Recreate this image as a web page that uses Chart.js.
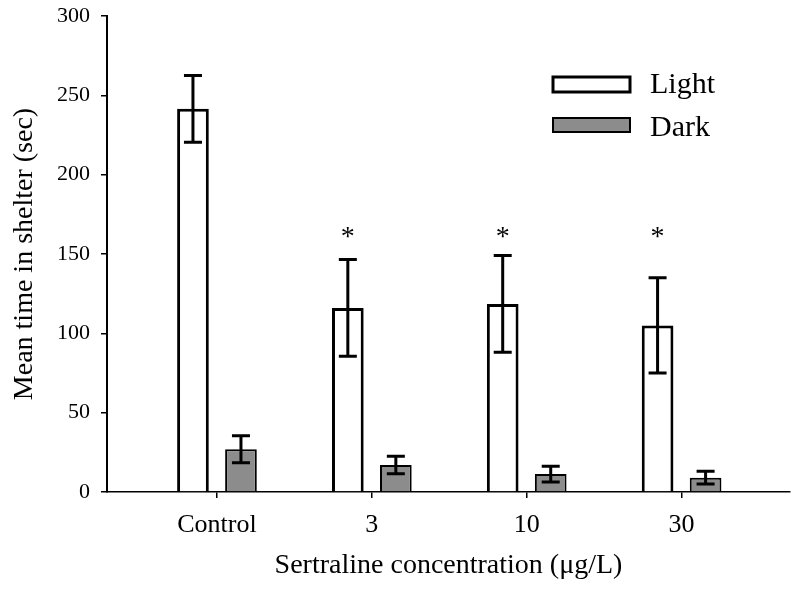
<!DOCTYPE html>
<html><head><meta charset="utf-8">
<script src="https://cdn.jsdelivr.net/npm/chart.js@4.4.1/dist/chart.umd.min.js"></script>
<style>html,body{margin:0;padding:0;background:#fff}#wrap{width:800px;height:598px}</style>
</head><body><div id="wrap"><canvas id="c" width="800" height="598"></canvas></div>
<script>
const categories = ['Control', '3', '10', '30'];
const lightMeans = [241.5, 116, 118.5, 105];
const lightErrors = [21, 30.5, 30.5, 30];
const darkMeans = [27, 17, 11.3, 9];
const darkErrors = [8.5, 5.5, 5, 4];
const significant = [false, true, true, true];
const yTicks = [0, 50, 100, 150, 200, 250, 300];
const seriesLabels = ['Light', 'Dark'];

const SERIF = '"Liberation Serif", "Times New Roman", serif';

const overlay = {
  id: 'overlay',
  afterDatasetsDraw(chart) {
    const ctx = chart.ctx, ys = chart.scales.y;
    const errs = [lightErrors, darkErrors];
    const means = [lightMeans, darkMeans];
    ctx.save();
    ctx.strokeStyle = '#000';
    ctx.lineWidth = 3;
    [0, 1].forEach(d => {
      const meta = chart.getDatasetMeta(d);
      meta.data.forEach((bar, i) => {
        const v = means[d][i], e = errs[d][i];
        const top = ys.getPixelForValue(v + e), bot = ys.getPixelForValue(v - e);
        ctx.beginPath();
        ctx.moveTo(bar.x, top); ctx.lineTo(bar.x, bot);
        ctx.moveTo(bar.x - 9, top); ctx.lineTo(bar.x + 9, top);
        ctx.moveTo(bar.x - 9, bot); ctx.lineTo(bar.x + 9, bot);
        ctx.stroke();
      });
    });
    // significance asterisks
    ctx.fillStyle = '#000';
    ctx.font = '28px ' + SERIF;
    ctx.textAlign = 'center';
    ctx.textBaseline = 'alphabetic';
    const lm = chart.getDatasetMeta(0);
    significant.forEach((s, i) => {
      if (!s) return;
      ctx.fillText('*', lm.data[i].x, ys.getPixelForValue(164) + 13);
    });
    // legend
    const ds = chart.data.datasets;
    const boxes = [[553, 77, 77, 15, 93], [553, 118, 77, 14, 136]];
    ctx.font = '30px ' + SERIF;
    ctx.textAlign = 'left';
    ds.forEach((set, k) => {
      const [bx, by, bw, bh, base] = boxes[k];
      ctx.fillStyle = set.backgroundColor;
      ctx.fillRect(bx, by, bw, bh);
      ctx.lineWidth = set.borderWidth;
      ctx.strokeStyle = '#000';
      ctx.strokeRect(bx, by, bw, bh);
      ctx.fillStyle = '#000';
      ctx.fillText(set.label, 650, base);
    });
    ctx.restore();
  }
};

new Chart(document.getElementById('c'), {
  type: 'bar',
  data: {
    datasets: [
      {
        label: seriesLabels[0],
        data: categories.map((c, i) => ({ x: i + 1, y: lightMeans[i] })),
        backgroundColor: '#ffffff',
        borderColor: '#000000',
        borderWidth: 3,
        borderSkipped: 'start'
      },
      {
        label: seriesLabels[1],
        data: categories.map((c, i) => ({ x: i + 1, y: darkMeans[i] })),
        backgroundColor: '#8c8c8c',
        borderColor: '#000000',
        borderWidth: 2,
        borderSkipped: 'start'
      }
    ]
  },
  options: {
    responsive: false,
    devicePixelRatio: 1,
    animation: false,
    categoryPercentage: 0.62,
    barPercentage: 0.66,
    layout: { padding: { top: 16, right: 10, left: 0, bottom: 0 } },
    plugins: { legend: { display: false }, tooltip: { enabled: false } },
    scales: {
      x: {
        type: 'linear',
        offset: false,
        min: 0.29,
        max: 4.7,
        afterBuildTicks: s => { s.ticks = categories.map((c, i) => ({ value: i + 1 })); },
        afterFit: s => { s.height = 106; },
        ticks: {
          callback: v => categories[v - 1],
          font: { family: SERIF, size: 26 },
          color: '#000',
          padding: 12,
          maxRotation: 0,
          autoSkip: false
        },
        grid: { offset: false, drawOnChartArea: false, tickLength: 6, color: '#000', lineWidth: 1.5 },
        border: { display: true, color: '#000', width: 1.5 },
        title: {
          display: true,
          text: 'Sertraline concentration (\u03bcg/L)',
          font: { family: SERIF, size: 28 },
          color: '#000',
          padding: { top: 4, bottom: 16 }
        }
      },
      y: {
        min: 0,
        max: 300,
        afterBuildTicks: s => { s.ticks = yTicks.map(v => ({ value: v })); },
        afterFit: s => { s.width = 107; s.paddingTop = 0; s.paddingBottom = 0; },
        ticks: {
          font: { family: SERIF, size: 22 },
          color: '#000',
          padding: 11
        },
        grid: { drawOnChartArea: false, tickLength: 6, color: '#000', lineWidth: 1.5 },
        border: { display: true, color: '#000', width: 2 },
        title: {
          display: true,
          text: 'Mean time in shelter (sec)',
          font: { family: SERIF, size: 28 },
          color: '#000',
          padding: { top: 8, bottom: 0 }
        }
      }
    }
  },
  plugins: [overlay]
});
</script>
</body></html>
